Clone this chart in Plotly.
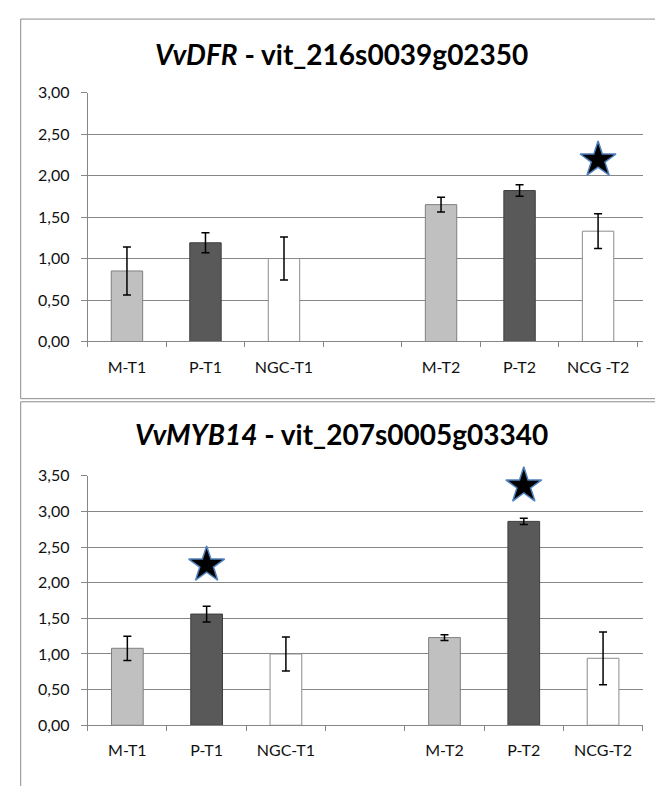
import plotly.graph_objects as go

# ---------------- data ----------------
dfr_categories = ["M-T1", "P-T1", "NGC-T1", " ", "M-T2", "P-T2", "NCG -T2"]
dfr_values = [0.85, 1.19, 1.00, None, 1.65, 1.82, 1.33]
dfr_errors = [0.29, 0.12, 0.26, None, 0.09, 0.07, 0.21]
dfr_star_categories = ["NCG -T2"]
dfr_star_values = [2.19]

myb_categories = ["M-T1", "P-T1", "NGC-T1", " ", "M-T2", "P-T2", "NCG-T2"]
myb_values = [1.08, 1.56, 1.00, None, 1.23, 2.86, 0.94]
myb_errors = [0.17, 0.11, 0.24, None, 0.04, 0.045, 0.37]
myb_star_categories = ["P-T1", "P-T2"]
myb_star_values = [2.25, 3.36]

dfr_title = "<b><i>VvDFR</i> - vit_216s0039g02350</b>"
myb_title = "<b><i>VvMYB14</i> - vit_207s0005g03340</b>"

# ---------------- style ----------------
W, H = 655, 786
FONT = "Lato"
bar_fill = ["#C0C0C0", "#595959", "#FFFFFF", "#FFFFFF", "#C0C0C0", "#595959", "#FFFFFF"]
bar_edge = ["#7F7F7F", "#3F3F3F", "#8C8C8C", "#8C8C8C", "#7F7F7F", "#3F3F3F", "#8C8C8C"]
grid_col = "#868686"


def py(v):
    return 1 - v / H


def px(v):
    return v / W


x_dom = [px(87.7), px(642.7)]
top_dom = [py(339.7), py(84.7)]
bot_dom = [py(733.0), py(477.3)]

fig = go.Figure()

for cats, vals, errs, scats, svals, xa, ya in [
    (dfr_categories, dfr_values, dfr_errors, dfr_star_categories, dfr_star_values, "x", "y"),
    (myb_categories, myb_values, myb_errors, myb_star_categories, myb_star_values, "x2", "y2"),
]:
    fig.add_trace(go.Bar(
        x=cats, y=vals, width=0.4,
        marker=dict(color=bar_fill, line=dict(color=bar_edge, width=1)),
        error_y=dict(type="data", array=errs, visible=True, color="#000000",
                     thickness=1.5, width=4),
        xaxis=xa, yaxis=ya, showlegend=False, hoverinfo="x+y",
    ))
    fig.add_trace(go.Scatter(
        x=scats, y=svals, mode="markers", cliponaxis=False,
        marker=dict(symbol="star", size=27, color="#000000",
                    line=dict(color="#4F81BD", width=1.5)),
        xaxis=xa, yaxis=ya, showlegend=False, hoverinfo="skip",
    ))

axis_x = dict(
    type="category", showline=True, linecolor=grid_col, linewidth=1,
    ticks="outside", ticklen=5, tickcolor=grid_col, tickson="boundaries",
    showgrid=False, tickfont=dict(family=FONT, size=16, color="#111111"),
    ticklabelstandoff=11, fixedrange=True, domain=x_dom,
)
axis_y = dict(
    showline=True, linecolor=grid_col, linewidth=1, ticks="outside", ticklen=6,
    tickcolor=grid_col, showgrid=True, gridcolor=grid_col, gridwidth=1,
    dtick=0.5, tickformat=".2f", zeroline=False,
    tickfont=dict(family=FONT, size=16, color="#111111"), ticklabelstandoff=8,
    fixedrange=True,
)

fig.update_layout(
    width=W, height=H, margin=dict(l=0, r=0, t=0, b=0),
    paper_bgcolor="white", plot_bgcolor="white", separators=",.",
    xaxis=dict(axis_x, categoryorder="array", categoryarray=dfr_categories, anchor="y"),
    yaxis=dict(axis_y, range=[0, 3.0], domain=top_dom, anchor="x"),
    xaxis2=dict(axis_x, categoryorder="array", categoryarray=myb_categories, anchor="y2"),
    yaxis2=dict(axis_y, range=[0, 3.5], domain=bot_dom, anchor="x2"),
    showlegend=False,
)

# titles
for txt, yc in [(dfr_title, 45), (myb_title, 435)]:
    fig.add_annotation(text=txt, xref="paper", yref="paper", x=px(341), y=py(yc),
                       xanchor="center", yanchor="middle", showarrow=False,
                       font=dict(family=FONT, size=28, color="#000000"))

# panel frames
frame = dict(color="#8C8C8C", width=1)
fig.add_shape(type="rect", xref="paper", yref="paper", x0=px(20.7), x1=1.05,
              y0=py(398.3), y1=py(9.3), line=frame, fillcolor="rgba(0,0,0,0)", layer="below")
fig.add_shape(type="rect", xref="paper", yref="paper", x0=px(20.7), x1=1.05,
              y0=-0.05, y1=py(401.5), line=frame, fillcolor="rgba(0,0,0,0)", layer="below")

fig.write_html(
    "out.html",
    config={"displayModeBar": False},
    post_script="document.body.style.margin='0px';document.body.style.overflow='hidden';",
)
